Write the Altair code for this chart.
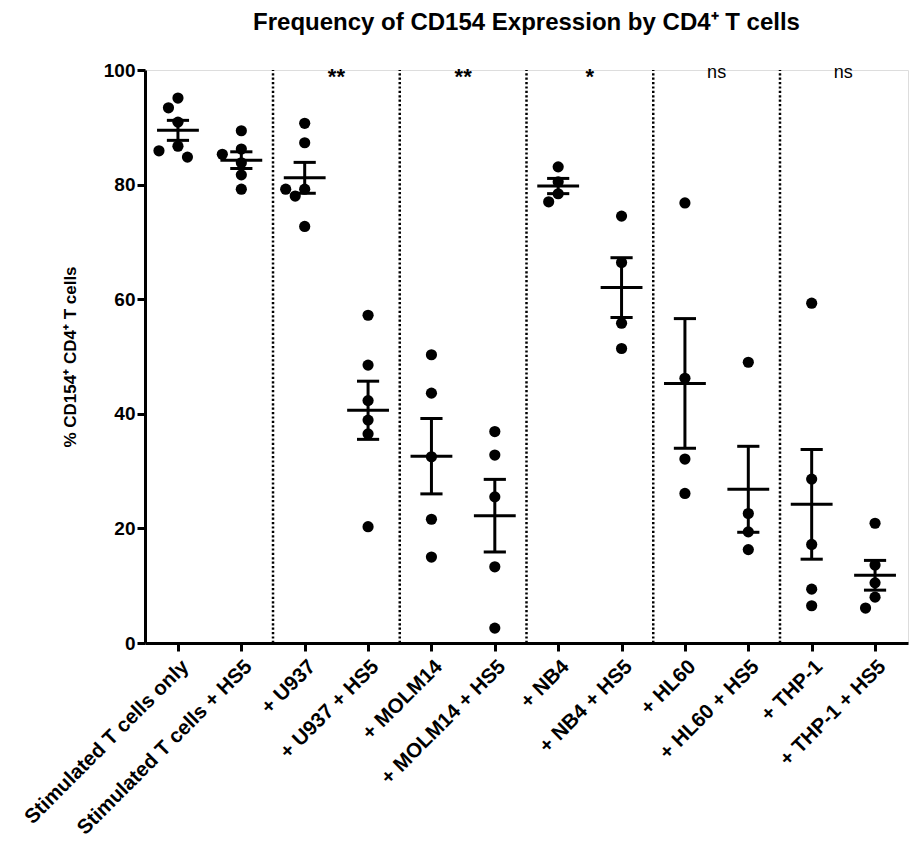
import json
import altair as alt
import pandas as pd

# Frequency of CD154+ cells among CD4+ T cells, per co-culture condition
groups = [
    "Stimulated T cells only", "Stimulated T cells + HS5",
    "+ U937", "+ U937 + HS5",
    "+ MOLM14", "+ MOLM14 + HS5",
    "+ NB4", "+ NB4 + HS5",
    "+ HL60", "+ HL60 + HS5",
    "+ THP-1", "+ THP-1 + HS5",
]
stim_only = [95.1, 93.4, 90.9, 86.7, 85.9, 84.8]
stim_hs5 = [89.4, 86.2, 85.3, 83.8, 81.7, 79.2]
u937 = [90.7, 87.3, 79.2, 79.2, 78.0, 72.7]
u937_hs5 = [57.2, 48.5, 42.3, 38.9, 36.5, 20.3]
molm14 = [50.3, 43.6, 32.5, 21.6, 15.0]
molm14_hs5 = [36.9, 32.8, 25.5, 13.3, 2.6]
nb4 = [83.1, 80.5, 78.4, 77.0]
nb4_hs5 = [74.5, 66.4, 55.8, 51.4]
hl60 = [76.8, 46.2, 32.1, 26.1]
hl60_hs5 = [49.0, 22.6, 19.4, 16.3]
thp1 = [59.3, 28.6, 17.2, 9.4, 6.5]
thp1_hs5 = [20.9, 13.6, 10.5, 8.0, 6.1]
series = [stim_only, stim_hs5, u937, u937_hs5, molm14, molm14_hs5,
          nb4, nb4_hs5, hl60, hl60_hs5, thp1, thp1_hs5]

# significance of each cell line vs. the same line + HS5
sig_labels = ["**", "**", "*", "ns", "ns"]

# plot geometry (pixels)
STEP = 63.4          # distance between neighbouring categories
PAD = 0.52           # outer padding, in category steps
PLOT_H = 573
PX_PER_UNIT = PLOT_H / 100.0
PLOT_W = round((len(groups) - 1 + 2 * PAD) * STEP)


def swarm(values, diam=11.5, shift=9.5):
    """Spread overlapping dots sideways, in the order of descending value."""
    placed = []
    offsets = []
    for v in values:
        y = v * PX_PER_UNIT
        for dx in (0, -shift, shift, -2 * shift, 2 * shift):
            if all(((y - py) ** 2 + (dx - px) ** 2) ** 0.5 >= diam for py, px in placed):
                break
        placed.append((y, dx))
        offsets.append(dx / STEP)
    return offsets


rows = []
for i, vals in enumerate(series):
    ordered = sorted(vals, reverse=True)
    for v, off in zip(ordered, swarm(ordered)):
        rows.append({"idx": i, "value": v, "xpos": i + off})
points_df = pd.DataFrame(rows)

sep_df = pd.DataFrame({"sep": [k + 1.5 for k in range(0, 10, 2)]})
sig_df = pd.DataFrame({"pos": [k + 2.5 for k in range(0, 10, 2)], "label": sig_labels})
stars_df = sig_df[sig_df["label"] != "ns"]
ns_df = sig_df[sig_df["label"] == "ns"]

label_expr = json.dumps(groups) + "[datum.value]"
x_scale = alt.Scale(domain=[-PAD, len(groups) - 1 + PAD], nice=False, zero=False)
y_scale = alt.Scale(domain=[0, 100], nice=False)

FONT = "Liberation Sans"

x_axis = alt.Axis(
    title=None, values=list(range(len(groups))), labelExpr=label_expr,
    labelAngle=-45, labelFont=FONT, labelFontWeight="bold", labelFontSize=20.5,
    labelColor="black", labelPadding=5, labelOverlap=False, labelAlign="right",
    labelBaseline="top", labelBound=False, labelFlush=False, labelLimit=0,
    grid=False, domainColor="black", domainWidth=3, tickColor="black",
    tickWidth=3, tickSize=8,
)
y_axis = alt.Axis(
    title="% CD154⁺ CD4⁺ T cells", values=[0, 20, 40, 60, 80, 100],
    labelFont=FONT, labelFontWeight="bold", labelFontSize=19, labelColor="black",
    labelPadding=2, titleFont=FONT, titleFontWeight="bold", titleFontSize=17,
    titleColor="black", titlePadding=24, grid=False, domainColor="black",
    domainWidth=3, tickColor="black", tickWidth=3, tickSize=8,
)

base = alt.Chart(points_df)

dots = base.mark_circle(size=125, color="black", opacity=1).encode(
    x=alt.X("xpos:Q", scale=x_scale, axis=x_axis),
    y=alt.Y("value:Q", scale=y_scale, axis=y_axis),
)

stats = base.transform_aggregate(
    mean="mean(value)", sem="stderr(value)", groupby=["idx"]
).transform_calculate(
    lo="datum.mean - datum.sem",
    hi="datum.mean + datum.sem",
    mean_l="datum.idx - 0.33",
    mean_r="datum.idx + 0.33",
    cap_l="datum.idx - 0.175",
    cap_r="datum.idx + 0.175",
)

mean_line = stats.mark_rule(color="black", strokeWidth=3).encode(
    x=alt.X("mean_l:Q", scale=x_scale), x2="mean_r:Q", y=alt.Y("mean:Q", scale=y_scale)
)
sem_bar = stats.mark_rule(color="black", strokeWidth=3).encode(
    x=alt.X("idx:Q", scale=x_scale), y=alt.Y("lo:Q", scale=y_scale), y2="hi:Q"
)
cap_hi = stats.mark_rule(color="black", strokeWidth=3).encode(
    x=alt.X("cap_l:Q", scale=x_scale), x2="cap_r:Q", y=alt.Y("hi:Q", scale=y_scale)
)
cap_lo = stats.mark_rule(color="black", strokeWidth=3).encode(
    x=alt.X("cap_l:Q", scale=x_scale), x2="cap_r:Q", y=alt.Y("lo:Q", scale=y_scale)
)

separators = alt.Chart(sep_df).mark_rule(
    color="black", strokeWidth=2.5, strokeDash=[2.2, 2.2]
).encode(
    x=alt.X("sep:Q", scale=x_scale),
    y=alt.datum(0, scale=y_scale),
    y2=alt.datum(100),
)

stars_text = alt.Chart(stars_df).mark_text(
    font=FONT, fontSize=22, fontWeight="bold", color="black",
    baseline="middle", align="center", dy=4,
).encode(
    x=alt.X("pos:Q", scale=x_scale),
    y=alt.datum(99.5, scale=y_scale),
    text="label:N",
)
ns_text = alt.Chart(ns_df).mark_text(
    font=FONT, fontSize=18, color="black", baseline="middle", align="center",
).encode(
    x=alt.X("pos:Q", scale=x_scale),
    y=alt.datum(99.5, scale=y_scale),
    text="label:N",
)

chart = alt.layer(
    separators, dots, mean_line, sem_bar, cap_hi, cap_lo, stars_text, ns_text
).properties(
    width=PLOT_W,
    height=PLOT_H,
    title=alt.TitleParams(
        "Frequency of CD154 Expression by CD4⁺ T cells",
        font=FONT, fontSize=24, fontWeight="bold",
        color="black", anchor="middle", offset=26,
    ),
    autosize=alt.AutoSizeParams(type="none"),
    padding={"left": 145, "top": 70, "right": 918 - 145 - PLOT_W, "bottom": 845 - 70 - PLOT_H},
).configure_view(stroke=None).configure(background="white")

chart.save("out.html", embed_options={"renderer": "svg", "actions": False})
